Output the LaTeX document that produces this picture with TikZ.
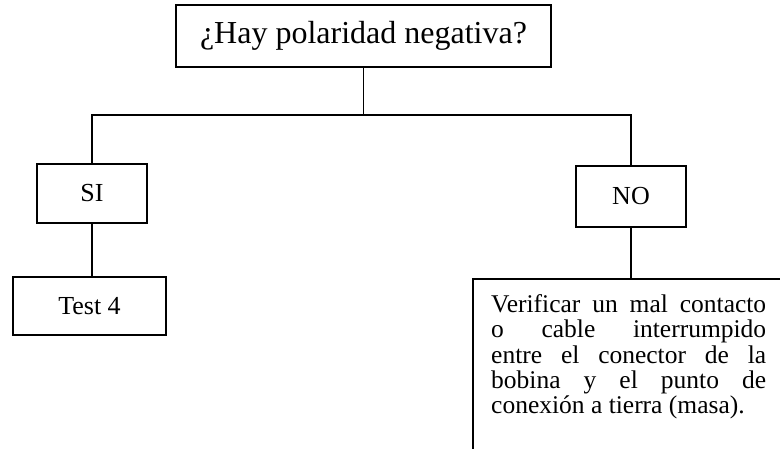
\documentclass[tikz,border=0pt]{standalone}
\usepackage{fontspec}
\setmainfont{Liberation Serif}
\tikzset{
  box/.style={draw, line width=1.8pt, rectangle, inner sep=0pt},
  conn/.style={line width=1.8pt},
}
\begin{document}
\begin{tikzpicture}[x=1pt,y=-1pt]
\useasboundingbox (0,0) rectangle (780,449);
\clip (0,0) rectangle (780,449);
\node[box, minimum width=375pt, minimum height=62pt, font=\fontsize{32}{38}\selectfont] (q) at (363.5,36) {¿Hay polaridad negativa?};
\node[box, minimum width=110pt, minimum height=59pt, font=\fontsize{26}{31}\selectfont] (si) at (92,193.5) {SI};
\node[box, minimum width=110pt, minimum height=61pt, font=\fontsize{26}{31}\selectfont] (no) at (631,196.5) {NO};
\node[box, minimum width=153pt, minimum height=58pt, font=\fontsize{26}{31}\selectfont] (t4) at (89.5,306) {Test 4};
\node[box, minimum width=400pt, minimum height=300pt, anchor=north west] (v) at (472,278) {};
\node[inner sep=0pt, anchor=north west, align=left, font=\fontsize{25.5}{25.3}\selectfont] (vt) at (491,294.5)
 {\makebox[275pt][s]{Verificar un mal contacto}\\
  \makebox[275pt][s]{o cable interrumpido}\\
  \makebox[275pt][s]{entre el conector de la}\\
  \makebox[275pt][s]{bobina y el punto de}\\
  \makebox[275pt][l]{conexión a tierra (masa).}};
\coordinate (j) at (363.5,115);
\draw[conn] (q.south) -- (j);
\draw[conn] (si.north) -- (si.north |- j) -- (no.north |- j) -- (no.north);
\draw[conn] (si.south) -- (si.south |- t4.north);
\draw[conn] (no.south) -- (no.south |- v.north);
\end{tikzpicture}
\end{document}
